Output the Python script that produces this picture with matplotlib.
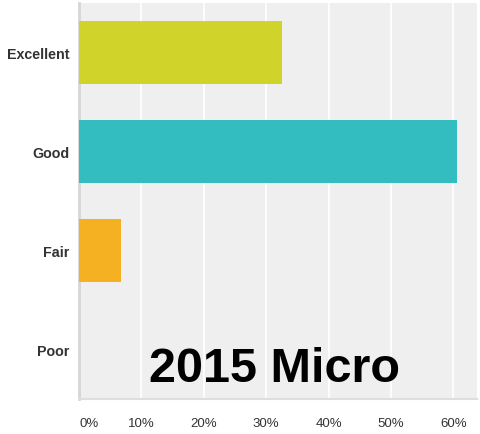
import matplotlib.pyplot as plt

categories = ['Excellent', 'Good', 'Fair', 'Poor']
values = [32.5, 60.5, 6.7, 0.0]
colors = ['#d0d42a', '#33bdc0', '#f6b122', '#cccccc']
xticks = [0, 10, 20, 30, 40, 50, 60]

plt.rcParams['font.family'] = ['Liberation Sans', 'DejaVu Sans']

fig = plt.figure(figsize=(4.8, 4.35), dpi=100)
ax = fig.add_axes([0.1646, 0.0805, 0.8294, 0.9103])
ax.set_facecolor('#efefef')

ypos = list(range(len(categories)))
ax.barh(ypos, values, height=0.63, color=colors, zorder=3)

ax.set_xlim(0, 63.8)
ax.set_ylim(3.5, -0.5)
ax.set_xticks(xticks)
ax.set_xticklabels(['{}%'.format(t) for t in xticks], fontsize=9.5, color='#333333')
ax.get_xticklabels()[0].set_ha('left')
ax.set_yticks(ypos)
ax.set_yticklabels(categories, fontsize=10.3, fontweight='bold', color='#333333')
ax.tick_params(axis='x', length=0, pad=13)
ax.tick_params(axis='y', length=0, pad=7)

# white vertical gridlines
ax.grid(axis='x', color='white', linewidth=1.2, zorder=1)
ax.set_axisbelow(True)

for side in ['top', 'right']:
    ax.spines[side].set_visible(False)
ax.spines['left'].set_color('#d6d6d6')
ax.spines['left'].set_linewidth(2)
ax.spines['bottom'].set_color('#dedede')
ax.spines['bottom'].set_linewidth(1.5)

ax.text(31.4, 3.32, '2015 Micro', fontsize=35, fontweight='bold',
        color='black', ha='center', va='baseline', zorder=4)

fig.savefig('out.png', dpi=100)
